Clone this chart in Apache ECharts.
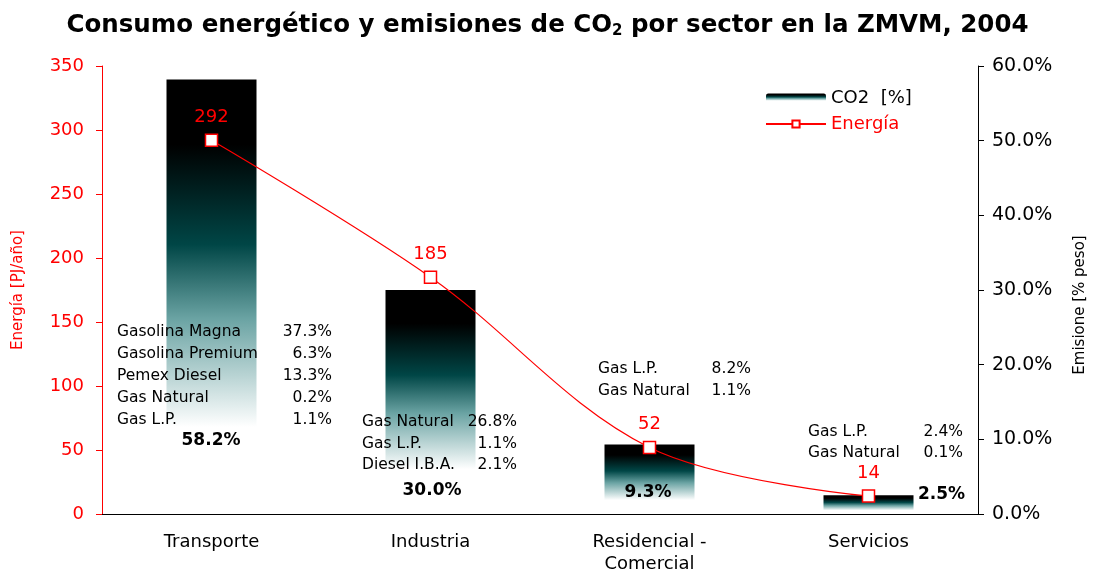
<!DOCTYPE html>
<html>
<head>
<meta charset="utf-8">
<script src="https://cdn.jsdelivr.net/npm/echarts@6/dist/echarts.min.js"></script>
<style>
  html, body { margin: 0; padding: 0; background: #fff; }
  #chart { width: 1095px; height: 575px; }
</style>
</head>
<body>
<div id="chart"></div>
<script>
// datos
const sectores = ['Transporte', 'Industria', 'Residencial -\nComercial', 'Servicios']
const energia = [292, 185, 52, 14]
const co2 = [58.2, 30.0, 9.3, 2.5]
const ticksEnergia = [0, 50, 100, 150, 200, 250, 300, 350]
const ticksCo2 = [0, 10, 20, 30, 40, 50, 60]

// desglose de emisiones por combustible
const desgloseTransporte = [['Gasolina Magna', '37.3%'], ['Gasolina Premium', '6.3%'], ['Pemex Diesel', '13.3%'], ['Gas Natural', '0.2%'], ['Gas L.P.', '1.1%']]
const desgloseIndustria = [['Gas Natural', '26.8%'], ['Gas L.P.', '1.1%'], ['Diesel I.B.A.', '2.1%']]
const desgloseResidencial = [['Gas L.P.', '8.2%'], ['Gas Natural', '1.1%']]
const desgloseServicios = [['Gas L.P.', '2.4%'], ['Gas Natural', '0.1%']]
const desgloses = [desgloseTransporte, desgloseIndustria, desgloseResidencial, desgloseServicios]

// posición de los bloques de texto (px)
const bloques = [
  { x: 117, valX: 332, y: 332, gap: 22, totX: 211, totY: 441, totAlign: 'center' },
  { x: 362, valX: 517, y: 422, gap: 21.5, totX: 432, totY: 491, totAlign: 'center' },
  { x: 598, valX: 751, y: 369, gap: 22, totX: 648, totY: 493, totAlign: 'center' },
  { x: 808, valX: 963, y: 432, gap: 21, totX: 918, totY: 495, totAlign: 'left' },
]

const fuente = 'DejaVu Sans, sans-serif'
const graficos = []
desgloses.forEach((filas, i) => {
  const b = bloques[i]
  filas.forEach((f, j) => {
    graficos.push({
      type: 'text', z: 50,
      style: { text: f[0], x: b.x, y: b.y + j * b.gap, fill: '#000', font: '15.5px ' + fuente, textVerticalAlign: 'middle' },
    })
    graficos.push({
      type: 'text', z: 50,
      style: { text: f[1], x: b.valX, y: b.y + j * b.gap, fill: '#000', font: '15.5px ' + fuente, textAlign: 'right', textVerticalAlign: 'middle' },
    })
  })
  graficos.push({
    type: 'text', z: 50,
    style: { text: co2[i].toFixed(1) + '%', x: b.totX, y: b.totY, fill: '#000', font: 'bold 17px ' + fuente, textAlign: b.totAlign, textVerticalAlign: 'middle' },
  })
})
// nombre del eje derecho
graficos.push({
  type: 'text', z: 50, x: 1080, y: 305, rotation: Math.PI / 2,
  style: { text: 'Emisione [% peso]', fill: '#000', font: '15px ' + fuente, textAlign: 'center', textVerticalAlign: 'middle' },
})

const degradado = new echarts.graphic.LinearGradient(0, 0, 0, 1, [
  { offset: 0, color: '#000000' },
  { offset: 0.15, color: '#000000' },
  { offset: 0.38, color: '#004646' },
  { offset: 0.55, color: '#6aa3a3' },
  { offset: 0.8, color: '#ffffff' },
  { offset: 1, color: '#ffffff' },
])

const chart = echarts.init(document.getElementById('chart'))
chart.setOption({
  animation: false,
  textStyle: { fontFamily: fuente },
  title: {
    text: '{a|Consumo energético y emisiones de CO}{s|2}{a| por sector en la ZMVM, 2004}',
    left: 'center',
    top: 6,
    textStyle: {
      rich: {
        a: { fontSize: 24.5, fontWeight: 'bold', color: '#000', fontFamily: fuente, lineHeight: 30 },
        s: { fontSize: 15, fontWeight: 'bold', color: '#000', fontFamily: fuente, lineHeight: 30, padding: [10, 0, 0, 0] },
      },
    },
  },
  legend: {
    orient: 'vertical',
    left: 760,
    top: 84,
    itemWidth: 60,
    itemHeight: 9,
    itemGap: 8,
    textStyle: { fontSize: 18, fontFamily: fuente },
    data: [
      { name: 'CO2  [%]', textStyle: { color: '#000' } },
      { name: 'Energía', textStyle: { color: '#ff0000' } },
    ],
  },
  grid: { left: 102, right: 117, top: 66, bottom: 58 },
  xAxis: {
    type: 'category',
    data: sectores,
    axisLine: { lineStyle: { color: '#000', width: 1 } },
    axisTick: { interval: 0, length: 6, lineStyle: { color: '#000' } },
    axisLabel: { color: '#000', fontSize: 18, lineHeight: 22, margin: 17, interval: 0 },
  },
  yAxis: [
    {
      type: 'value',
      min: ticksEnergia[0],
      max: ticksEnergia[ticksEnergia.length - 1],
      interval: 50,
      name: 'Energía [PJ/año]',
      nameLocation: 'middle',
      nameGap: 76,
      nameTextStyle: { color: '#ff0000', fontSize: 15 },
      axisLine: { show: true, lineStyle: { color: '#ff0000' } },
      axisTick: { show: true, length: 6, lineStyle: { color: '#ff0000' } },
      axisLabel: { color: '#ff0000', fontSize: 18, margin: 18 },
      splitLine: { show: false },
    },
    {
      type: 'value',
      min: ticksCo2[0],
      max: ticksCo2[ticksCo2.length - 1],
      interval: 10,
      axisLine: { show: true, lineStyle: { color: '#000' } },
      axisTick: { show: true, length: 6, lineStyle: { color: '#000' } },
      axisLabel: { color: '#000', fontSize: 19, margin: 14, formatter: (v) => v.toFixed(1) + '%' },
      splitLine: { show: false },
    },
  ],
  series: [
    {
      name: 'CO2  [%]',
      type: 'bar',
      yAxisIndex: 1,
      barWidth: 90,
      data: co2,
      itemStyle: { color: degradado },
      z: 1,
    },
    {
      name: 'Energía',
      type: 'line',
      yAxisIndex: 0,
      data: energia,
      smooth: 0.35,
      symbol: 'rect',
      symbolSize: 12,
      lineStyle: { color: '#ff0000', width: 1.2 },
      itemStyle: { color: '#ffffff', borderColor: '#ff0000', borderWidth: 1.5 },
      label: { show: true, position: 'top', distance: 7, color: '#ff0000', fontSize: 18 },
      z: 5,
    },
  ],
  graphic: graficos,
})
</script>
</body>
</html>
